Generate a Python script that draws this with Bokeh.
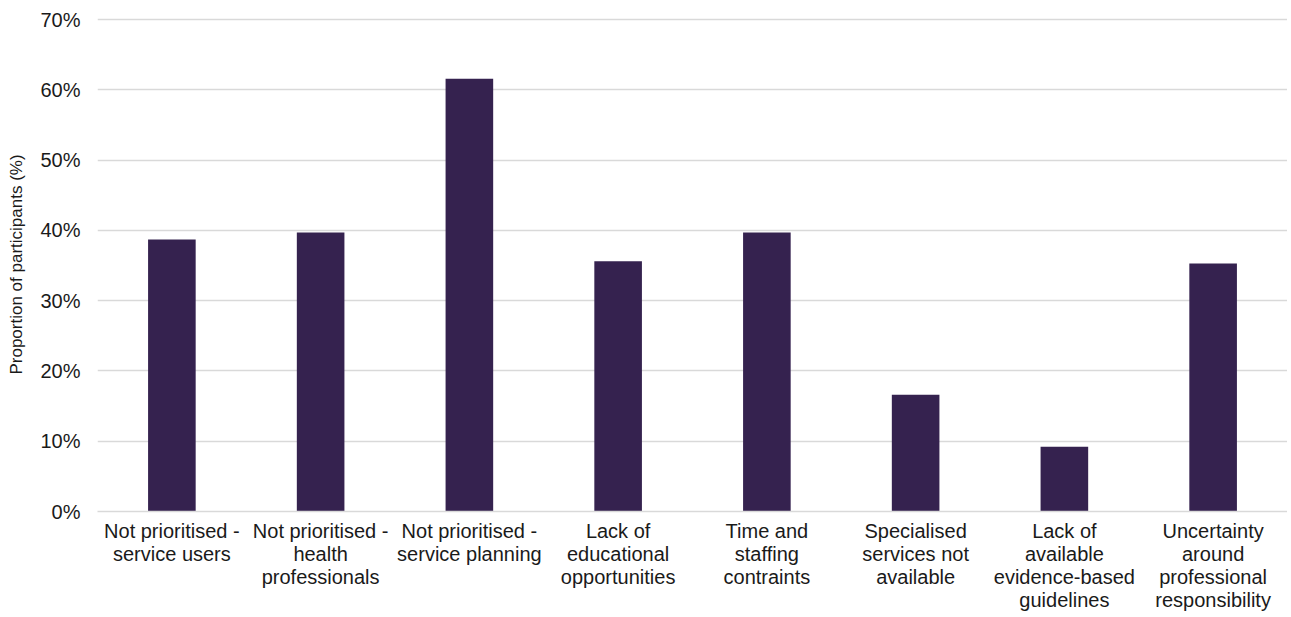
from bokeh.plotting import figure
from bokeh.models import ColumnDataSource, PrintfTickFormatter, FixedTicker
from bokeh.embed import file_html
from bokeh.resources import INLINE

categories = [
    "Not prioritised -\nservice users",
    "Not prioritised -\nhealth\nprofessionals",
    "Not prioritised -\nservice planning",
    "Lack of\neducational\nopportunities",
    "Time and\nstaffing\ncontraints",
    "Specialised\nservices not\navailable",
    "Lack of\navailable\nevidence-based\nguidelines",
    "Uncertainty\naround\nprofessional\nresponsibility",
]
values = [38.7, 39.7, 61.6, 35.6, 39.7, 16.6, 9.2, 35.3]
y_ticks = [0, 10, 20, 30, 40, 50, 60, 70]

src = ColumnDataSource(dict(cat=categories, val=values))

p = figure(x_range=categories, y_range=(0, 70.3), width=1287, height=617,
           output_backend="svg", toolbar_location=None,
           min_border_left=97, min_border_right=0, min_border_top=17, min_border_bottom=106)
p.vbar(x="cat", top="val", width=0.32, source=src, fill_color="#35224F", line_color=None)

font = "Liberation Sans"
p.outline_line_color = None
p.xgrid.grid_line_color = None
p.ygrid.grid_line_color = "#d9d9d9"
p.ygrid.grid_line_width = 1.5
p.yaxis.ticker = FixedTicker(ticks=y_ticks)
p.yaxis.formatter = PrintfTickFormatter(format="%d%%")
p.yaxis.axis_line_color = None
p.yaxis.major_tick_line_color = None
p.yaxis.minor_tick_line_color = None
p.yaxis.major_tick_out = 0
p.yaxis.minor_tick_out = 0
p.yaxis.major_label_standoff = 17
p.yaxis.major_label_text_font = font
p.yaxis.major_label_text_font_size = "20px"
p.yaxis.major_label_text_color = "#1a1a1a"
p.yaxis.axis_label = "Proportion of participants (%)"
p.yaxis.axis_label_text_font = font
p.yaxis.axis_label_text_font_size = "17px"
p.yaxis.axis_label_text_font_style = "normal"
p.yaxis.axis_label_text_color = "#1a1a1a"
p.yaxis.axis_label_standoff = 11

p.xaxis.axis_line_color = "#d9d9d9"
p.xaxis.axis_line_width = 1.5
p.xaxis.major_tick_line_color = None
p.xaxis.minor_tick_line_color = None
p.xaxis.major_tick_out = 0
p.xaxis.minor_tick_out = 0
p.xaxis.major_label_standoff = 8
p.xaxis.major_label_text_font = font
p.xaxis.major_label_text_font_size = "20px"
p.xaxis.major_label_text_color = "#1a1a1a"
p.xaxis.major_label_text_line_height = 1.06
p.xaxis.major_label_text_align = "center"
p.xaxis.major_label_text_baseline = "top"
p.x_range.range_padding = 0

open("out.html", "w").write(file_html(p, INLINE))
